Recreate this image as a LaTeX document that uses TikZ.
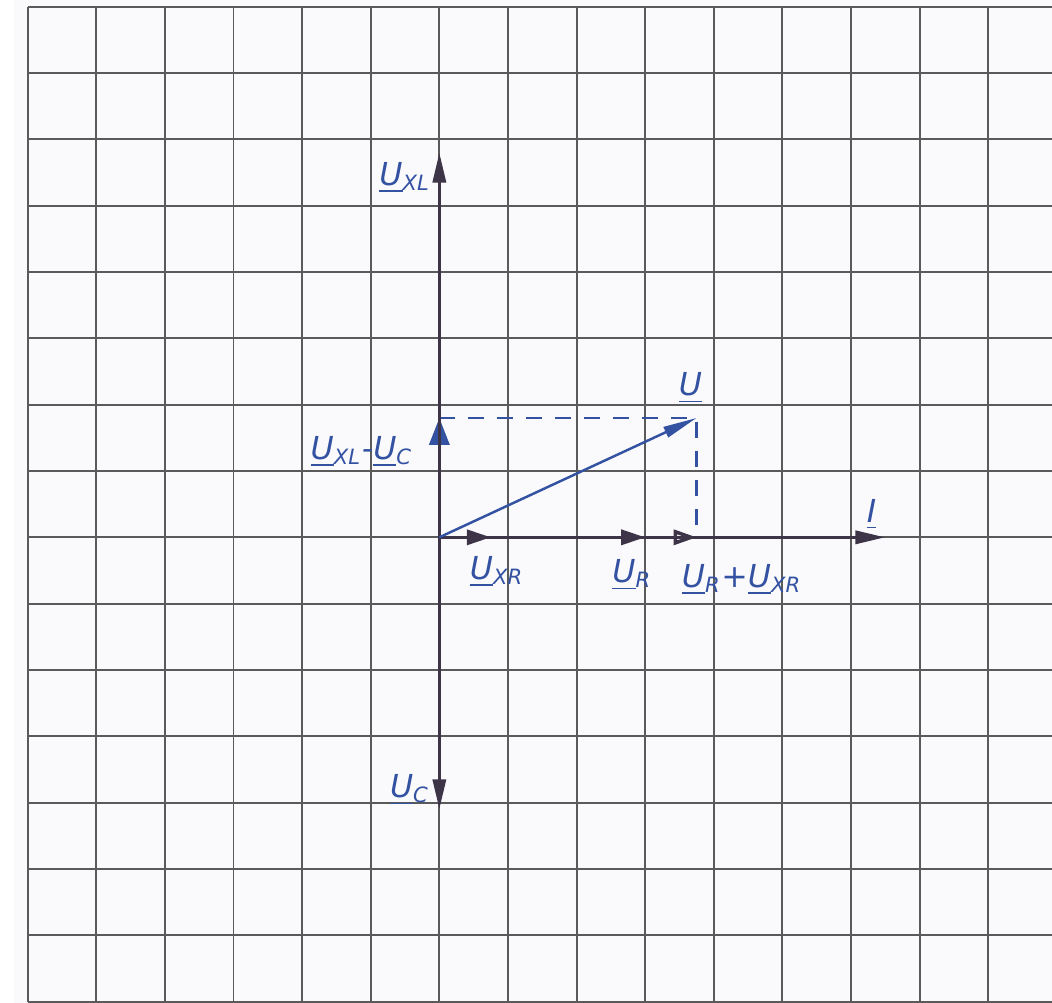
\documentclass[tikz,border=0pt]{standalone}
\usepackage{fontspec}
\setmainfont{DejaVu Sans}
\usepackage{xcolor}
\usetikzlibrary{arrows.meta,positioning}

\definecolor{paper}{HTML}{FAFAFD}
\definecolor{gridcol}{HTML}{5A5A5A}
\definecolor{axiscol}{HTML}{3E3448}
\definecolor{inkblue}{HTML}{3452A2}

\newcommand{\phasor}[2]{\underline{#1}\textsubscript{#2}}

\begin{document}
\begin{tikzpicture}[
    x=0.686cm, y=0.6633cm,
    gridline/.style={draw=gridcol, line width=0.55pt},
    axis/.style={draw=axiscol, line width=1pt,
                 -{Triangle[length=3mm,width=1.3mm]}},
    onaxis/.style={draw=axiscol, line width=1pt,
                   -{Triangle[length=2.4mm,width=1.5mm]}},
    openaxis/.style={draw=axiscol, line width=1pt,
                     -{Triangle[open,length=2.3mm,width=1.5mm]}},
    vec/.style={draw=inkblue, line width=0.7pt,
                -{Triangle[length=3.4mm,width=1.1mm]}},
    fatvec/.style={draw=inkblue, line width=1pt,
                   -{Triangle[length=2.7mm,width=2mm]}},
    helper/.style={draw=inkblue, line width=0.7pt,
                   dash pattern=on 1.6mm off 1.3mm},
    lbl/.style={text=inkblue, font=\small\itshape, inner sep=1pt}
]
\useasboundingbox (-6.404,-7.02) rectangle (8.93,8.10);
\fill[paper] (-6.2,-7.02) rectangle (8.93,8.10);

% squared paper
\foreach \i in {-6,...,8}
  \draw[gridline] (\i,-7) -- (\i,8);
\foreach \j in {-7,...,8}
  \draw[gridline] (-6,\j) -- (8.93,\j);

\coordinate (O) at (0,0);
\coordinate (uxl) at (0,5.8);
\coordinate (uc) at (0,-4.1);
\coordinate (itip) at (6.5,0);
\coordinate (uxr) at (0.75,0);
\coordinate (ur) at (3,0);
\coordinate (urxr) at (3.75,0);
\coordinate (u) at (3.75,1.8);
\coordinate (uxlc) at (0,1.8);

% resulting voltage
\draw[helper] (uxlc) -- (u) -- (urxr);
\draw[fatvec] (O) -- (uxlc);

% axes
\draw[axis] (O) -- (uxl);
\draw[axis] (O) -- (uc);
\draw[axis] (O) -- (itip);
\draw[onaxis] (O) -- (uxr);
\draw[onaxis] (O) -- (ur);
\draw[openaxis] (O) -- (urxr);

\draw[vec] (O) -- (u);

\node[lbl] (lxl) at (-0.50,5.42) {\phasor{U}{XL}};
\node[lbl] (lxlc) at (-1.13,1.29) {\phasor{U}{XL}-\phasor{U}{C}};
\node[lbl] (lu) at (3.66,2.25) {\underline{U}};
\node[lbl] (li) at (6.30,0.34) {\underline{I}};
\node[lbl] (lxr) at (0.84,-0.52) {\phasor{U}{XR}};
\node[lbl] (lr) at (2.81,-0.57) {\phasor{U}{R}};
\node[lbl] (lrxr) at (4.41,-0.64) {\phasor{U}{R}+\phasor{U}{XR}};
\node[lbl] (lc) at (-0.43,-3.81) {\phasor{U}{C}};
\end{tikzpicture}
\end{document}
